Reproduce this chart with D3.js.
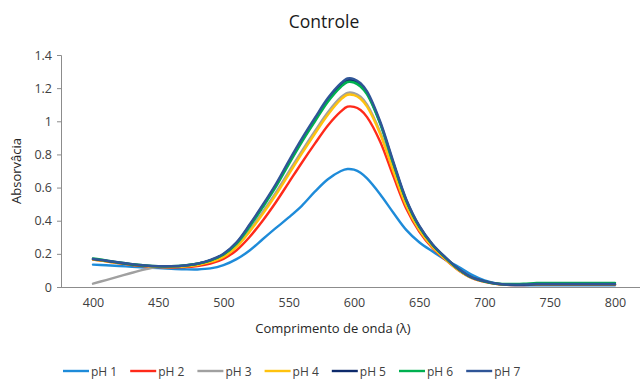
<!DOCTYPE html>
<html><head><meta charset="utf-8">
<script src="https://cdn.jsdelivr.net/npm/d3@7"></script>
<style>body{margin:0;background:#fff}svg{display:block;font-family:"Open Sans",sans-serif}</style>
</head><body><svg id="c" width="641" height="379"></svg>
<script>
const wavelengths=[400,410,420,430,440,450,460,470,480,490,500,510,520,530,540,550,560,570,580,590,595,600,605,610,620,630,640,650,660,670,680,690,700,710,720,730,740,750,760,770,780,790,800];
const pH1=[.135,.131,.127,.122,.118,.114,.110,.107,.106,.112,.132,.168,.220,.288,.355,.420,.490,.575,.650,.700,.712,.708,.690,.655,.560,.450,.345,.270,.215,.165,.122,.075,.040,.020,.012,.010,.010,.010,.010,.010,.010,.010,.010];
const pH2=[.165,.155,.143,.133,.125,.120,.118,.120,.127,.142,.170,.222,.302,.400,.510,.630,.750,.865,.975,1.060,1.088,1.087,1.068,1.025,.878,.672,.474,.335,.237,.165,.101,.055,.031,.017,.012,.012,.014,.014,.014,.014,.014,.014,.014];
const pH3=[.020,.042,.064,.086,.106,.122,.124,.127,.136,.154,.186,.246,.342,.452,.568,.695,.820,.940,1.055,1.145,1.172,1.170,1.148,1.100,.935,.710,.497,.348,.245,.170,.104,.056,.032,.018,.014,.014,.016,.016,.016,.016,.016,.016,.016];
const pH4=[.165,.155,.144,.134,.127,.122,.121,.124,.133,.151,.182,.240,.334,.440,.555,.680,.805,.925,1.040,1.132,1.160,1.158,1.136,1.088,.925,.703,.492,.345,.243,.168,.103,.056,.032,.018,.013,.013,.015,.015,.015,.015,.015,.015,.015];
const pH5=[.168,.158,.146,.136,.129,.125,.125,.129,.140,.161,.198,.266,.372,.488,.612,.750,.884,1.008,1.128,1.218,1.247,1.244,1.220,1.170,.992,.752,.524,.366,.257,.178,.109,.059,.034,.019,.014,.014,.016,.016,.016,.016,.016,.016,.016];
const pH6=[.172,.161,.148,.137,.130,.126,.126,.130,.140,.160,.196,.262,.364,.480,.602,.740,.874,.998,1.118,1.208,1.237,1.234,1.210,1.162,.986,.748,.522,.364,.256,.177,.108,.059,.034,.020,.018,.020,.024,.025,.025,.025,.025,.025,.025];
const pH7=[.170,.160,.148,.138,.130,.126,.126,.130,.141,.163,.201,.270,.377,.495,.620,.760,.895,1.020,1.140,1.230,1.258,1.255,1.230,1.180,1.000,.760,.530,.370,.260,.180,.110,.060,.035,.020,.015,.015,.018,.018,.018,.018,.018,.018,.018];
const seriesNames=["pH 1","pH 2","pH 3","pH 4","pH 5","pH 6","pH 7"];
const seriesValues=[pH1,pH2,pH3,pH4,pH5,pH6,pH7];
const colors=["#1E8BD9","#FF2A1A","#A0A0A0","#FFC20E","#0D2A6B","#00B050","#2F5597"];
const xTicks=[400,450,500,550,600,650,700,750,800];
const yTicks=[0,0.2,0.4,0.6,0.8,1,1.2,1.4];

const svg=d3.select("#c");
const x=d3.scaleLinear().domain([400,800]).range([93,615]);
const y=d3.scaleLinear().domain([0,1.4]).range([287,55]);
const axisColor="#8C8C8C";

const ya=svg.append("g").attr("transform","translate(61,0)")
  .call(d3.axisLeft(y).tickValues(yTicks).tickSize(4).tickPadding(5).tickFormat(d=>d3.format("~g")(d)));
ya.select(".domain").attr("stroke",axisColor);
ya.selectAll(".tick line").attr("stroke",axisColor);
ya.selectAll(".tick text").attr("font-size",12.5).attr("fill","#404040").attr("font-family","'Open Sans',sans-serif");

const xa=svg.append("g").attr("transform","translate(0,287)")
  .call(d3.axisBottom(x).tickValues(xTicks).tickSize(0).tickPadding(11).tickFormat(d3.format("d")));
xa.select(".domain").attr("d","M61,0.5H640").attr("stroke",axisColor);
xa.selectAll(".tick text").attr("font-size",12.5).attr("fill","#404040").attr("font-family","'Open Sans',sans-serif");

const line=d3.line().x(d=>x(d[0])).y(d=>y(d[1])).curve(d3.curveCatmullRom.alpha(0.5));
seriesValues.forEach((vals,i)=>{
  svg.append("path").datum(wavelengths.map((w,j)=>[w,vals[j]]))
    .attr("d",line).attr("fill","none").attr("stroke",colors[i]).attr("stroke-width",2.4)
    .attr("stroke-linejoin","round").attr("stroke-linecap","round");
});

svg.append("text").attr("x",324).attr("y",28).attr("text-anchor","middle").attr("font-size",17.5).attr("fill","#1a1a1a").text("Controle");
svg.append("text").attr("x",333).attr("y",333).attr("text-anchor","middle").attr("font-size",13).attr("fill","#262626").text("Comprimento de onda (λ)");
svg.append("text").attr("transform","translate(21,171) rotate(-90)").attr("text-anchor","middle").attr("font-size",13).attr("fill","#262626").text("Absorvâcia");

const lg=svg.append("g");
seriesNames.forEach((n,i)=>{
  const lx=63+i*67.2;
  lg.append("line").attr("x1",lx).attr("x2",lx+26).attr("y1",371).attr("y2",371).attr("stroke",colors[i]).attr("stroke-width",2.4);
  lg.append("text").attr("x",lx+28).attr("y",375.5).attr("font-size",12).attr("fill","#404040").text(n);
});
</script></body></html>
